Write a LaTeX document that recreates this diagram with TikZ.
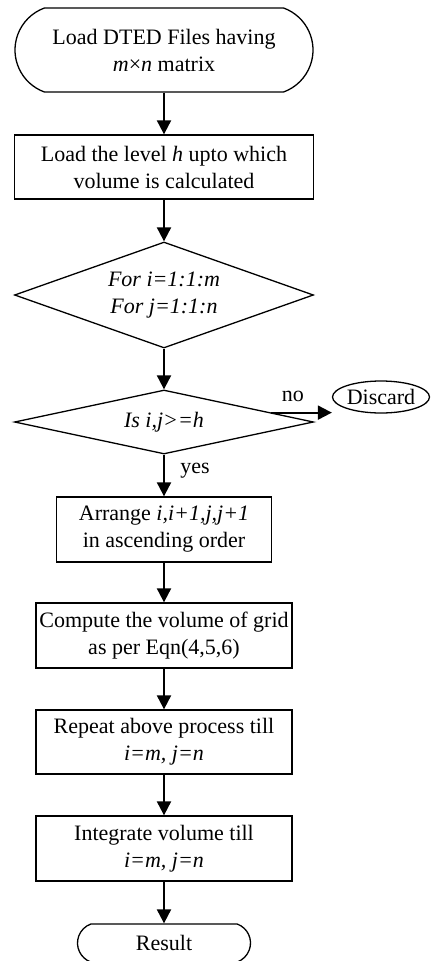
\documentclass[tikz,border=0pt]{standalone}
\usepackage{fontspec}
\setmainfont{Liberation Serif}
\usetikzlibrary{arrows,arrows.meta,shapes.geometric,shapes.misc,positioning}
\tikzset{
  every node/.style={font=\fontsize{22}{27}\selectfont, align=center},
  process/.style={draw, line width=1.3pt, rectangle, inner sep=0pt, minimum height=64pt},
  decision/.style={draw, line width=1.3pt, diamond, inner sep=0pt, minimum width=299pt},
  terminal/.style={draw, line width=1.3pt, rounded rectangle, rounded rectangle arc length=140, inner sep=0pt},
  flow/.style={line width=2pt, -{Triangle[length=14pt,width=14pt]}}
}

\begin{document}
\begin{tikzpicture}[x=1pt,y=-1pt]
\useasboundingbox (0,0) rectangle (431,961);

% boxes
\node[terminal, minimum width=298pt, minimum height=84pt] (start) at (164,50) {Load DTED Files having\\\textit{m}×\textit{n} matrix};
\node[process, minimum width=299pt] (level) at (164,167) {Load the level \textit{h} upto which\\volume is calculated};
\node[decision, shape aspect=2.8, minimum height=106pt] (loop) at (164,295) {\textit{For i=1:1:m}\\\textit{For j=1:1:n}};
\node[decision, shape aspect=4.6, minimum height=64pt] (check) at (164,422) {\textit{Is i,j>=h}};
\node[draw, ellipse, line width=1.3pt, inner sep=0pt, minimum width=97pt, minimum height=32pt] (discard) at (381,397) {Discard};
\node[process, minimum width=215pt, minimum height=65pt] (arrange) at (164,529.5) {Arrange \textit{i,i+1,j,j+1}\\in ascending order};
\node[process, minimum width=256pt, minimum height=65pt] (compute) at (164,635.5) {Compute the volume of grid\\as per Eqn(4,5,6)};
\node[process, minimum width=256pt] (repeat) at (164,742) {Repeat above process till\\\textit{i=m, j=n}};
\node[process, minimum width=256pt, minimum height=65pt] (integrate) at (164,848.5) {Integrate volume till\\\textit{i=m, j=n}};
\node[terminal, minimum width=173pt, minimum height=38pt] (result) at (164,943) {Result};

% arrows
\draw[flow] (start.south) -- (level.north);
\draw[flow] (level.south) -- (loop.north);
\draw[flow] (loop.south) -- (check.north);
\draw[flow] (check.5.5) -- node[pos=.36, above=7pt] {no} (check.5.5 -| discard.west);
\draw[flow] (check.south) -- node[pos=.38, right=12pt] {yes} (arrange.north);
\draw[flow] (arrange.south) -- (compute.north);
\draw[flow] (compute.south) -- (repeat.north);
\draw[flow] (repeat.south) -- (integrate.north);
\draw[flow] (integrate.south) -- (result.north);
\end{tikzpicture}
\end{document}
